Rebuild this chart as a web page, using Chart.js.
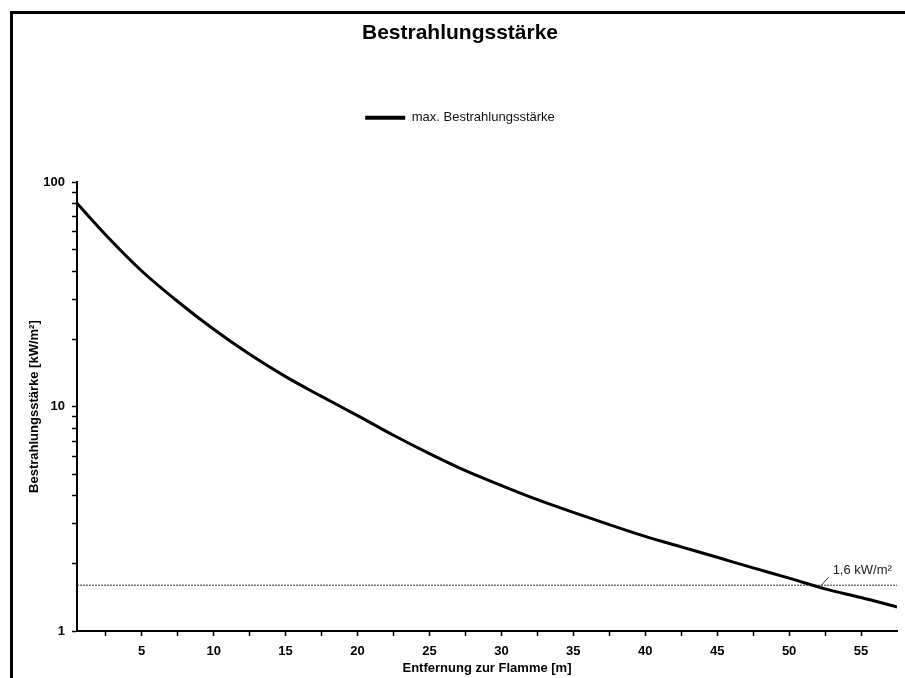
<!DOCTYPE html>
<html>
<head>
<meta charset="utf-8">
<script src="https://cdn.jsdelivr.net/npm/chart.js@4"></script>
<style>
    html, body { margin: 0; padding: 0; background: #fff; }
    #frame {
        position: absolute; left: 10px; top: 11px; width: 900px; height: 680px;
        border-left: 3px solid #000; border-top: 3px solid #000;
        box-shadow: -1px -1px 0 #888 inset;
    }
    #wrap { position: absolute; left: 0; top: 0; width: 905px; height: 678px; }
</style>
</head>
<body>
<div id="frame"></div>
<div id="wrap"><canvas id="irradianceChart" width="905" height="678"></canvas></div>
<script>
// Werte
const distances = [0.5, 2.5, 5, 7.5, 10, 12.5, 15, 17.5, 20, 22.5, 25, 27.5, 30,
                   32.5, 35, 37.5, 40, 42.5, 45, 47.5, 50, 52.5, 55, 57.5];
const irradiance = [80.5, 58.2, 40.2, 29.4, 22.1, 17.1, 13.6, 11.1, 9.12, 7.45, 6.17, 5.18, 4.45,
                    3.85, 3.38, 2.98, 2.64, 2.37, 2.13, 1.91, 1.72, 1.54, 1.41, 1.28];

const xTicks = [2.5, 5, 7.5, 10, 12.5, 15, 17.5, 20, 22.5, 25, 27.5, 30,
                32.5, 35, 37.5, 40, 42.5, 45, 47.5, 50, 52.5, 55];
const xLabeled = [5, 10, 15, 20, 25, 30, 35, 40, 45, 50, 55];
const yTicks = [1, 2, 3, 4, 5, 6, 7, 8, 9, 10, 20, 30, 40, 50, 60, 70, 80, 90, 100];
const yLabeled = [1, 10, 100];

const thresholdValue = 1.6;
const thresholdText = '1,6 kW/m²';
const thresholdLabelAt = 52.4;

const fontFamily = 'Arial, "Liberation Sans", sans-serif';

const thresholdLabel = {
    id: 'thresholdLabel',
    afterDatasetsDraw(chart) {
        const {ctx, scales: {x, y}} = chart;
        const px = x.getPixelForValue(thresholdLabelAt);
        const py = y.getPixelForValue(thresholdValue);
        ctx.save();
        ctx.strokeStyle = '#333';
        ctx.lineWidth = 1;
        ctx.beginPath();
        ctx.moveTo(px - 4, py + 2);
        ctx.lineTo(px + 5, py - 8);
        ctx.stroke();
        ctx.fillStyle = '#222';
        ctx.font = '13px ' + fontFamily;
        ctx.textBaseline = 'middle';
        ctx.fillText(thresholdText, px + 9, py - 15);
        ctx.restore();
    }
};

const legendSpace = {
    id: 'legendSpace',
    beforeInit(chart) {
        const fit = chart.legend.fit;
        chart.legend.fit = function () {
            fit.bind(chart.legend)();
            this.height += 48;
        };
    }
};

const chartEl = document.getElementById('irradianceChart');
new Chart(chartEl, {
    type: 'line',
    data: {
        datasets: [
        {
            label: 'max. Bestrahlungsstärke',
            data: distances.map((d, i) => ({x: d, y: irradiance[i]})),
            borderColor: '#000',
            backgroundColor: '#000',
            borderWidth: 3,
            pointRadius: 0,
            cubicInterpolationMode: 'monotone',
            order: 1
        },
        {
            label: 'Grenzwert',
            data: [{x: distances[0], y: thresholdValue}, {x: distances[distances.length - 1], y: thresholdValue}],
            borderColor: '#333',
            borderWidth: 1,
            borderDash: [2, 1],
            pointRadius: 0,
            order: 2
        }
        ]
    },
    options: {
        responsive: false,
        animation: false,
        layout: {
            padding: {left: 23, right: 8, top: 14, bottom: 0}
        },
        scales: {
            x: {
                type: 'linear',
                min: 0.5,
                max: 57.5,
                afterBuildTicks: scale => { scale.ticks = xTicks.map(v => ({value: v})); },
                afterFit: scale => { scale.height = 47; },
                ticks: {
                    autoSkip: false,
                    maxRotation: 0,
                    padding: 8,
                    color: '#000',
                    font: {family: fontFamily, size: 13, weight: 'bold'},
                    callback: v => xLabeled.includes(v) ? v : ''
                },
                grid: {drawOnChartArea: false, color: '#000', tickLength: 5, tickWidth: 1.5},
                border: {color: '#000', width: 2},
                title: {
                    display: true,
                    text: 'Entfernung zur Flamme [m]',
                    color: '#000',
                    padding: {top: 2, bottom: 2},
                    font: {family: fontFamily, size: 13, weight: 'bold'}
                }
            },
            y: {
                type: 'logarithmic',
                min: 1,
                max: 100,
                afterBuildTicks: scale => { scale.ticks = yTicks.map(v => ({value: v})); },
                afterFit: scale => { scale.width = 54; },
                ticks: {
                    autoSkip: false,
                    padding: 7,
                    color: '#000',
                    font: {family: fontFamily, size: 13, weight: 'bold'},
                    callback: v => yLabeled.includes(v) ? String(v) : ''
                },
                grid: {drawOnChartArea: false, color: '#000', tickLength: 5, tickWidth: 1.5},
                border: {color: '#000', width: 2},
                title: {
                    display: true,
                    text: 'Bestrahlungsstärke [kW/m²]',
                    color: '#000',
                    padding: {top: 4, bottom: 4},
                    font: {family: fontFamily, size: 13, weight: 'bold'}
                }
            }
        },
        plugins: {
            title: {
                display: true,
                text: 'Bestrahlungsstärke',
                color: '#000',
                padding: {top: 7, bottom: 55},
                font: {family: fontFamily, size: 21, weight: 'bold'}
            },
            legend: {
                position: 'top',
                labels: {
                    boxWidth: 40,
                    boxHeight: 4,
                    color: '#111',
                    font: {family: fontFamily, size: 13},
                    generateLabels: chart => Chart.defaults.plugins.legend.labels.generateLabels(chart)
                        .filter(l => l.datasetIndex === 0)
                        .map(l => Object.assign(l, {lineWidth: 0, fillStyle: '#000'}))
                }
            },
            tooltip: {enabled: false}
        }
    },
    plugins: [thresholdLabel, legendSpace]
});
</script>
</body>
</html>
